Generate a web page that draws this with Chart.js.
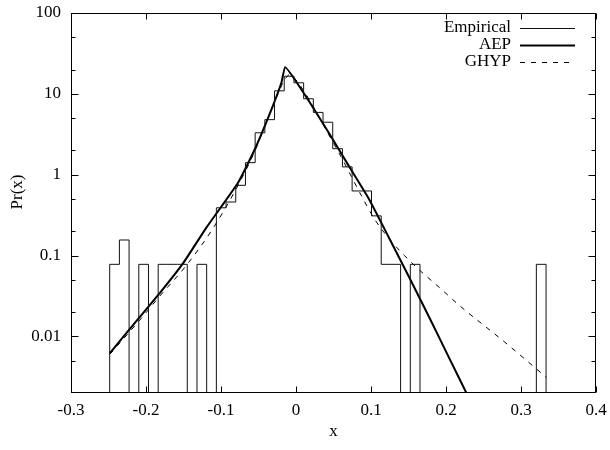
<!DOCTYPE html>
<html>
<head>
<meta charset="utf-8">
<script src="https://cdn.jsdelivr.net/npm/chart.js@4.4.1/dist/chart.umd.min.js"></script>
<style>
  html, body { margin: 0; padding: 0; background: #fff; }
  #wrap { width: 610px; height: 450px; }
</style>
</head>
<body>
<div id="wrap"><canvas id="prChart" width="610" height="450"></canvas></div>
<script>
'use strict';

// histogram: first bin edge, bin width, density of each of the 45 bins
var binStart = -0.2484;
var binWidth = 0.012929;
var empiricalDensity = [
    0.078, 0.156, 0, 0.078, 0, 0.078, 0.078, 0.078, 0, 0.078,
    0, 0.39, 0.46, 0.74, 1.41, 3.3, 4.8, 10.9, 16.5, 13.7,
    8.7, 5.9, 4.46, 2.1, 1.25, 0.63, 0.63, 0.31, 0.078, 0.078,
    0, 0.078, 0, 0, 0, 0, 0, 0, 0, 0,
    0, 0, 0, 0, 0.078
];

// AEP fitted density
var aepX = [-0.2484, -0.2151, -0.1817, -0.1507, -0.1195, -0.0773, -0.0551, -0.0328, -0.0195, -0.0144,
            -0.0024, 0.0176, 0.0443, 0.0709, 0.0976, 0.1243, 0.1509, 0.1776, 0.2043, 0.2272];
var aepY = [0.0062, 0.0146, 0.0343, 0.080, 0.222, 0.796, 2.05, 6.4, 13.7, 21.4,
            15.4, 8.03, 3.24, 1.26, 0.495, 0.164, 0.054, 0.0173, 0.0054, 0.002];

// GHYP fitted density
var ghypX = [-0.2484, -0.2084, -0.1817, -0.1461, -0.1107, -0.0773, -0.0551, -0.0395, -0.0261, -0.0164,
             -0.0084, -0.0004, 0.0176, 0.0376, 0.0627, 0.0849, 0.1049, 0.1249, 0.1449, 0.1649,
             0.1916, 0.2183, 0.2760, 0.3339];
var ghypY = [0.0060, 0.0159, 0.0315, 0.0759, 0.217, 0.738, 1.94, 4.42, 9.0, 14.2,
             17.3, 15.0, 8.5, 3.95, 1.50, 0.604, 0.281, 0.159, 0.0995, 0.0659,
             0.040, 0.024, 0.00887, 0.00312];

var xTickValues = [-0.3, -0.2, -0.1, 0, 0.1, 0.2, 0.3, 0.4];
var xTickLabels = ['-0.3', '-0.2', '-0.1', '0', '0.1', '0.2', '0.3', '0.4'];
var yTickValues = [0.01, 0.1, 1, 10, 100];
var yTickLabels = ['0.01', '0.1', '1', '10', '100'];

var yMin = 0.002;
var yMax = 100;
var serif = "'Liberation Serif', 'DejaVu Serif', serif";
var fontSize = 17;

// histeps style points: left edge of each bin carries the bin value
var empiricalPoints = [{x: binStart, y: yMin}];
for (var i = 0; i < empiricalDensity.length; i++) {
    empiricalPoints.push({x: binStart + i * binWidth, y: empiricalDensity[i] > 0 ? empiricalDensity[i] : yMin});
}
empiricalPoints.push({x: binStart + empiricalDensity.length * binWidth, y: yMin});

function toPoints(xs, ys) {
    return xs.map(function (x, i) { return {x: x, y: ys[i]}; });
}

// frame, inward ticks, axis titles and gnuplot-like key
var gnuplotFrame = {
    id: 'gnuplotFrame',
    afterDatasetsDraw: function (chart) {
        var ctx = chart.ctx;
        var a = chart.chartArea;
        var xs = chart.scales.x;
        var ys = chart.scales.y;
        var L = Math.round(a.left) + 0.5, R = Math.round(a.right) - 0.5;
        var T = Math.round(a.top) + 0.5, B = Math.round(a.bottom) - 0.5;

        ctx.save();
        ctx.strokeStyle = '#000';
        ctx.lineWidth = 1;
        ctx.setLineDash([]);
        ctx.strokeRect(L, T, R - L, B - T);

        ctx.beginPath();
        xTickValues.forEach(function (v) {
            var px = Math.round(xs.getPixelForValue(v)) + 0.5;
            ctx.moveTo(px, B); ctx.lineTo(px, B - 6);
            ctx.moveTo(px, T); ctx.lineTo(px, T + 6);
        });
        yTickValues.forEach(function (v) {
            var py = Math.round(ys.getPixelForValue(v)) + 0.5;
            ctx.moveTo(L, py); ctx.lineTo(L + 7, py);
            ctx.moveTo(R, py); ctx.lineTo(R - 7, py);
        });
        for (var d = -3; d <= 1; d++) {
            [2, 5].forEach(function (m) {
                var v = m * Math.pow(10, d);
                if (v <= yMin || v >= yMax) return;
                var py = Math.round(ys.getPixelForValue(v)) + 0.5;
                ctx.moveTo(L, py); ctx.lineTo(L + 4, py);
                ctx.moveTo(R, py); ctx.lineTo(R - 4, py);
            });
        }
        ctx.stroke();

        ctx.fillStyle = '#000';
        ctx.font = fontSize + 'px ' + serif;
        ctx.textAlign = 'center';
        ctx.textBaseline = 'middle';
        ctx.fillText('x', (a.left + a.right) / 2, 432);
        ctx.save();
        ctx.translate(18, 192);
        ctx.rotate(-Math.PI / 2);
        ctx.fillText('Pr(x)', 0, 0);
        ctx.restore();

        // key
        ctx.textAlign = 'right';
        chart.data.datasets.forEach(function (ds, k) {
            var y = 28 + k * 17;
            ctx.fillText(ds.label, 511, y);
            ctx.beginPath();
            ctx.lineWidth = ds.borderWidth;
            ctx.setLineDash(ds.borderDash || []);
            ctx.strokeStyle = ds.borderColor;
            ctx.moveTo(520, Math.round(y) + 0.5);
            ctx.lineTo(575, Math.round(y) + 0.5);
            ctx.stroke();
        });
        ctx.restore();
    }
};

var tickFont = {family: serif, size: fontSize};

var prChart = new Chart(document.getElementById('prChart'), {
    type: 'line',
    data: {
        datasets: [
            {
                label: 'Empirical',
                data: empiricalPoints,
                stepped: true,
                borderColor: '#111',
                borderWidth: 1,
                pointRadius: 0,
                fill: false
            },
            {
                label: 'AEP',
                data: toPoints(aepX, aepY),
                borderColor: '#000',
                borderWidth: 2,
                tension: 0.15,
                pointRadius: 0,
                fill: false
            },
            {
                label: 'GHYP',
                data: toPoints(ghypX, ghypY),
                borderColor: '#000',
                borderWidth: 1,
                borderDash: [5, 6],
                cubicInterpolationMode: 'monotone',
                pointRadius: 0,
                fill: false
            }
        ]
    },
    options: {
        responsive: false,
        animation: false,
        devicePixelRatio: 1,
        layout: {padding: {top: 13, right: 14, left: 0, bottom: 0}},
        plugins: {
            legend: {display: false},
            tooltip: {enabled: false}
        },
        scales: {
            x: {
                type: 'linear',
                min: -0.3,
                max: 0.4,
                grid: {display: false, drawTicks: false},
                border: {display: false},
                afterBuildTicks: function (s) {
                    s.ticks = xTickValues.map(function (v) { return {value: v}; });
                },
                afterFit: function (s) {
                    s.height = 57;
                    s.paddingLeft = 0;
                    s.paddingRight = 0;
                },
                ticks: {
                    padding: 7,
                    color: '#000',
                    font: tickFont,
                    maxRotation: 0,
                    autoSkip: false,
                    callback: function (v, i) { return xTickLabels[i]; }
                }
            },
            y: {
                type: 'logarithmic',
                min: yMin,
                max: yMax,
                grid: {display: false, drawTicks: false},
                border: {display: false},
                afterBuildTicks: function (s) {
                    s.ticks = yTickValues.map(function (v) { return {value: v}; });
                },
                afterFit: function (s) {
                    s.width = 71;
                    s.paddingTop = 0;
                    s.paddingBottom = 0;
                },
                ticks: {
                    padding: 10,
                    color: '#000',
                    font: tickFont,
                    autoSkip: false,
                    callback: function (v, i) { return yTickLabels[i]; }
                }
            }
        }
    },
    plugins: [gnuplotFrame]
});
</script>
</body>
</html>
